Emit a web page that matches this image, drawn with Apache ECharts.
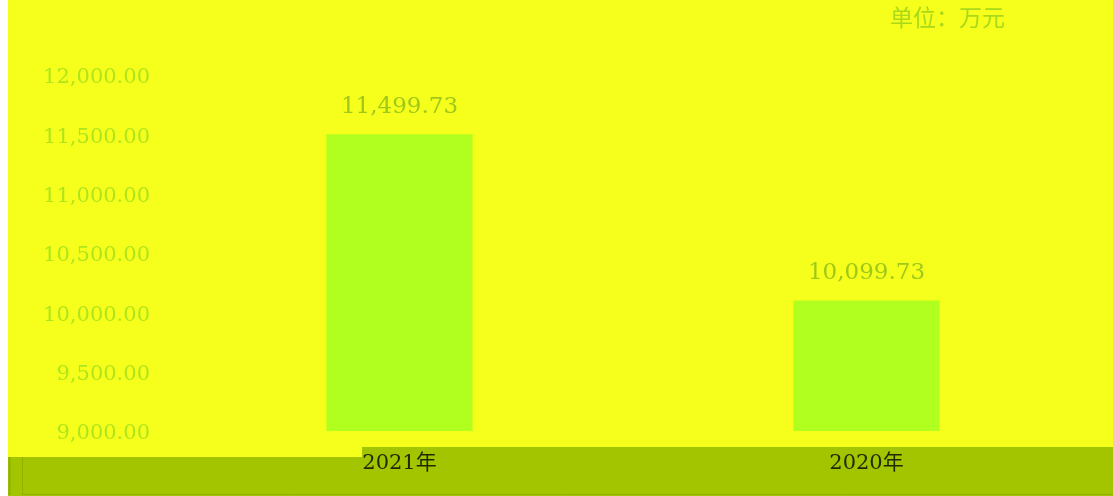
<!DOCTYPE html>
<html><head><meta charset="utf-8">
<script src="https://cdn.jsdelivr.net/npm/echarts@6/dist/echarts.min.js"></script>
<style>html,body{margin:0;padding:0;background:#fff;}#c{position:absolute;left:8px;top:0;width:1105px;height:496px;}</style>
</head><body><div id="c"></div>
<script>
const categories = ['2021年', '2020年'];
const values = [11499.73, 10099.73];
const yTicks = [9000, 9500, 10000, 10500, 11000, 11500, 12000];
const unitText = '单位：万元';

function fmt(v){ return Number(v).toLocaleString('en-US',{minimumFractionDigits:2,maximumFractionDigits:2}); }

const chart = echarts.init(document.getElementById('c'));
chart.setOption({
  backgroundColor: '#f5ff1b',
  animation: false,
  grid: {left: 158, right: 13, top: 75, bottom: 65},
  graphic: [
    {type:'rect', z:0, shape:{x:0,y:447,width:1105,height:49}, style:{fill:'#a2c500'}},
    {type:'rect', z:0, shape:{x:0,y:447,width:354,height:10}, style:{fill:'#f5ff1b'}},
    {type:'line', z:1, shape:{x1:1.5,y1:457,x2:1.5,y2:495}, style:{stroke:'#8fb000',lineWidth:2}},
    {type:'line', z:1, shape:{x1:14.5,y1:457,x2:14.5,y2:495}, style:{stroke:'#8fb000',lineWidth:1}},
    {type:'line', z:1, shape:{x1:14,y1:494.5,x2:1105,y2:494.5}, style:{stroke:'#8fb000',lineWidth:1}},
    {type:'text', z:5, left: 882, top: 6, style:{text: unitText, fill:'#a9d91a', font:'23px "Noto Sans CJK SC"'}}
  ],
  xAxis: {
    type: 'category', data: categories, z: 10,
    axisLine:{show:false}, axisTick:{show:false},
    axisLabel:{color:'#1e2a00', fontSize:21, fontFamily:'"DejaVu Serif","Noto Sans CJK SC"', margin:22}
  },
  yAxis: {
    type: 'value', min: yTicks[0], max: yTicks[yTicks.length-1], interval: 500,
    axisLine:{show:false}, axisTick:{show:false}, splitLine:{show:false},
    axisLabel:{color:'#b0e41c', fontSize:21, fontFamily:'"DejaVu Serif"', margin:16, verticalAlign:'top', lineHeight:6, formatter: fmt}
  },
  series: [{
    type: 'bar', data: values, barWidth: '31.3%',
    itemStyle:{color:'#b1ff1e'},
    label:{show:true, position:'top', distance:16, color:'#9fc81a', fontSize:23, fontFamily:'"DejaVu Serif"', formatter: p => fmt(p.value)}
  }]
});
</script></body></html>
